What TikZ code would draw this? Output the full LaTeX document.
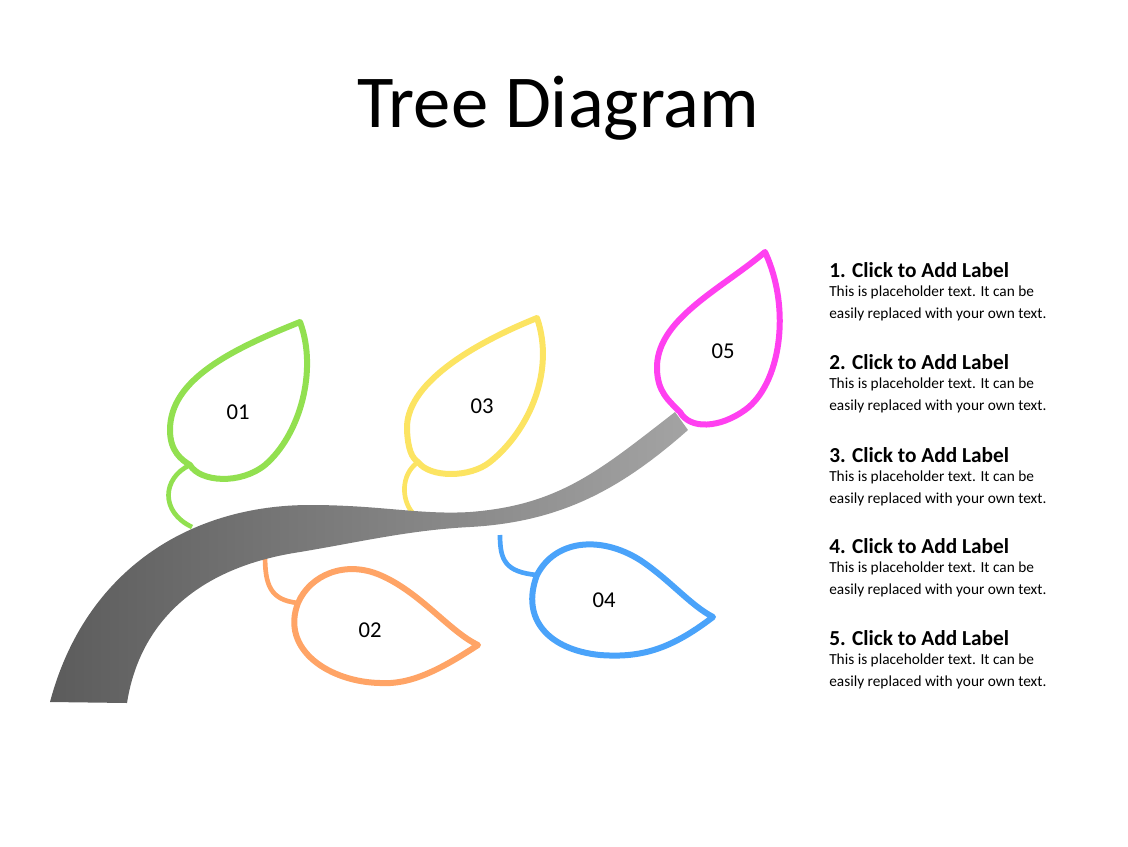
\documentclass[tikz,border=0pt]{standalone}
\usepackage{fontspec}
\setmainfont{Carlito}
\begin{document}
\begin{tikzpicture}[x=0.75pt,y=-0.75pt,
  leaf/.style={line width=4.5pt,line join=round,fill=white,draw=#1},
  stem/.style={line width=3.5pt},
  num/.style={font=\fontsize{17}{20}\selectfont},
  head/.style={font=\bfseries\fontsize{16}{19}\selectfont,anchor=west,inner sep=0},
  body/.style={font=\fontsize{11.5}{16.5}\selectfont,anchor=north west,align=left,inner sep=0}]
\useasboundingbox (0,0) rectangle (1128,846);
\definecolor{lgreen}{HTML}{92E050}\definecolor{lorange}{HTML}{FFA466}
\definecolor{lyellow}{HTML}{FCE462}\definecolor{lblue}{HTML}{4AA3FA}
\definecolor{lmag}{HTML}{FF40F0}
\node (title) at (558,108) {\fontsize{56}{64}\selectfont Tree Diagram};
% stems behind branch
\draw[stem,lgreen] (190,465) .. controls (162,478) and (160,512) .. (192,527);
\draw[stem,lyellow] (418,462) .. controls (400,475) and (402,500) .. (412,512);
\draw[stem,lorange] (298,603) .. controls (270,600) and (265,585) .. (265,555);
\draw[stem,lblue] (537,575) .. controls (505,572) and (500,560) .. (500,535);
% branch
\shade[left color=black!64,right color=black!36]
 (50,702) .. controls (85,570) and (190,505) .. (310,505)
 .. controls (380,505) and (420,515) .. (470,512)
 .. controls (560,505) and (600,470) .. (675,412)
 -- (688,430) .. controls (620,490) and (560,522) .. (470,527)
 .. controls (410,530) and (360,542) .. (300,552)
 .. controls (200,567) and (140,620) .. (127,703) -- cycle;
% leaves
\draw[leaf=lgreen] (300,322) .. controls (230,350) and (170,380) .. (170,430)
 .. controls (170,452) and (182,460) .. (190,465)
 .. controls (200,482) and (240,485) .. (265,465)
 .. controls (300,435) and (318,370) .. cycle;
\draw[leaf=lyellow] (537,318) .. controls (470,345) and (405,385) .. (407,430)
 .. controls (408,450) and (412,458) .. (418,462)
 .. controls (430,478) and (470,478) .. (490,462)
 .. controls (530,430) and (555,370) .. cycle;
\draw[leaf=lmag] (765,252) .. controls (720,290) and (655,320) .. (657,370)
 .. controls (658,392) and (668,400) .. (680,412)
 .. controls (690,430) and (720,428) .. (745,410)
 .. controls (780,385) and (792,310) .. cycle;
\draw[leaf=lorange] (478,645) .. controls (440,670) and (410,685) .. (380,683)
 .. controls (330,682) and (280,650) .. (298,603)
 .. controls (310,575) and (345,560) .. (380,575)
 .. controls (420,592) and (450,632) .. cycle;
\draw[leaf=lblue] (713,617) .. controls (670,650) and (640,658) .. (600,655)
 .. controls (550,650) and (520,620) .. (537,575)
 .. controls (555,540) and (600,535) .. (640,560)
 .. controls (670,580) and (690,605) .. cycle;
\node[num] (n1) at (238,412) {01};
\node[num] (n2) at (370,630) {02};
\node[num] (n3) at (482,406) {03};
\node[num] (n4) at (604,600) {04};
\node[num] (n5) at (723,351) {05};
% text list
\foreach \i/\y in {1/270,2/362,3/455,4/546,5/638}{
  \node[head] (h\i) at (829,\y) {\i. Click to Add Label};
  \node[body] (b\i) at (829,\y+16) {This is placeholder text. It can be\\easily replaced with your own text.};
}
\end{tikzpicture}
\end{document}
